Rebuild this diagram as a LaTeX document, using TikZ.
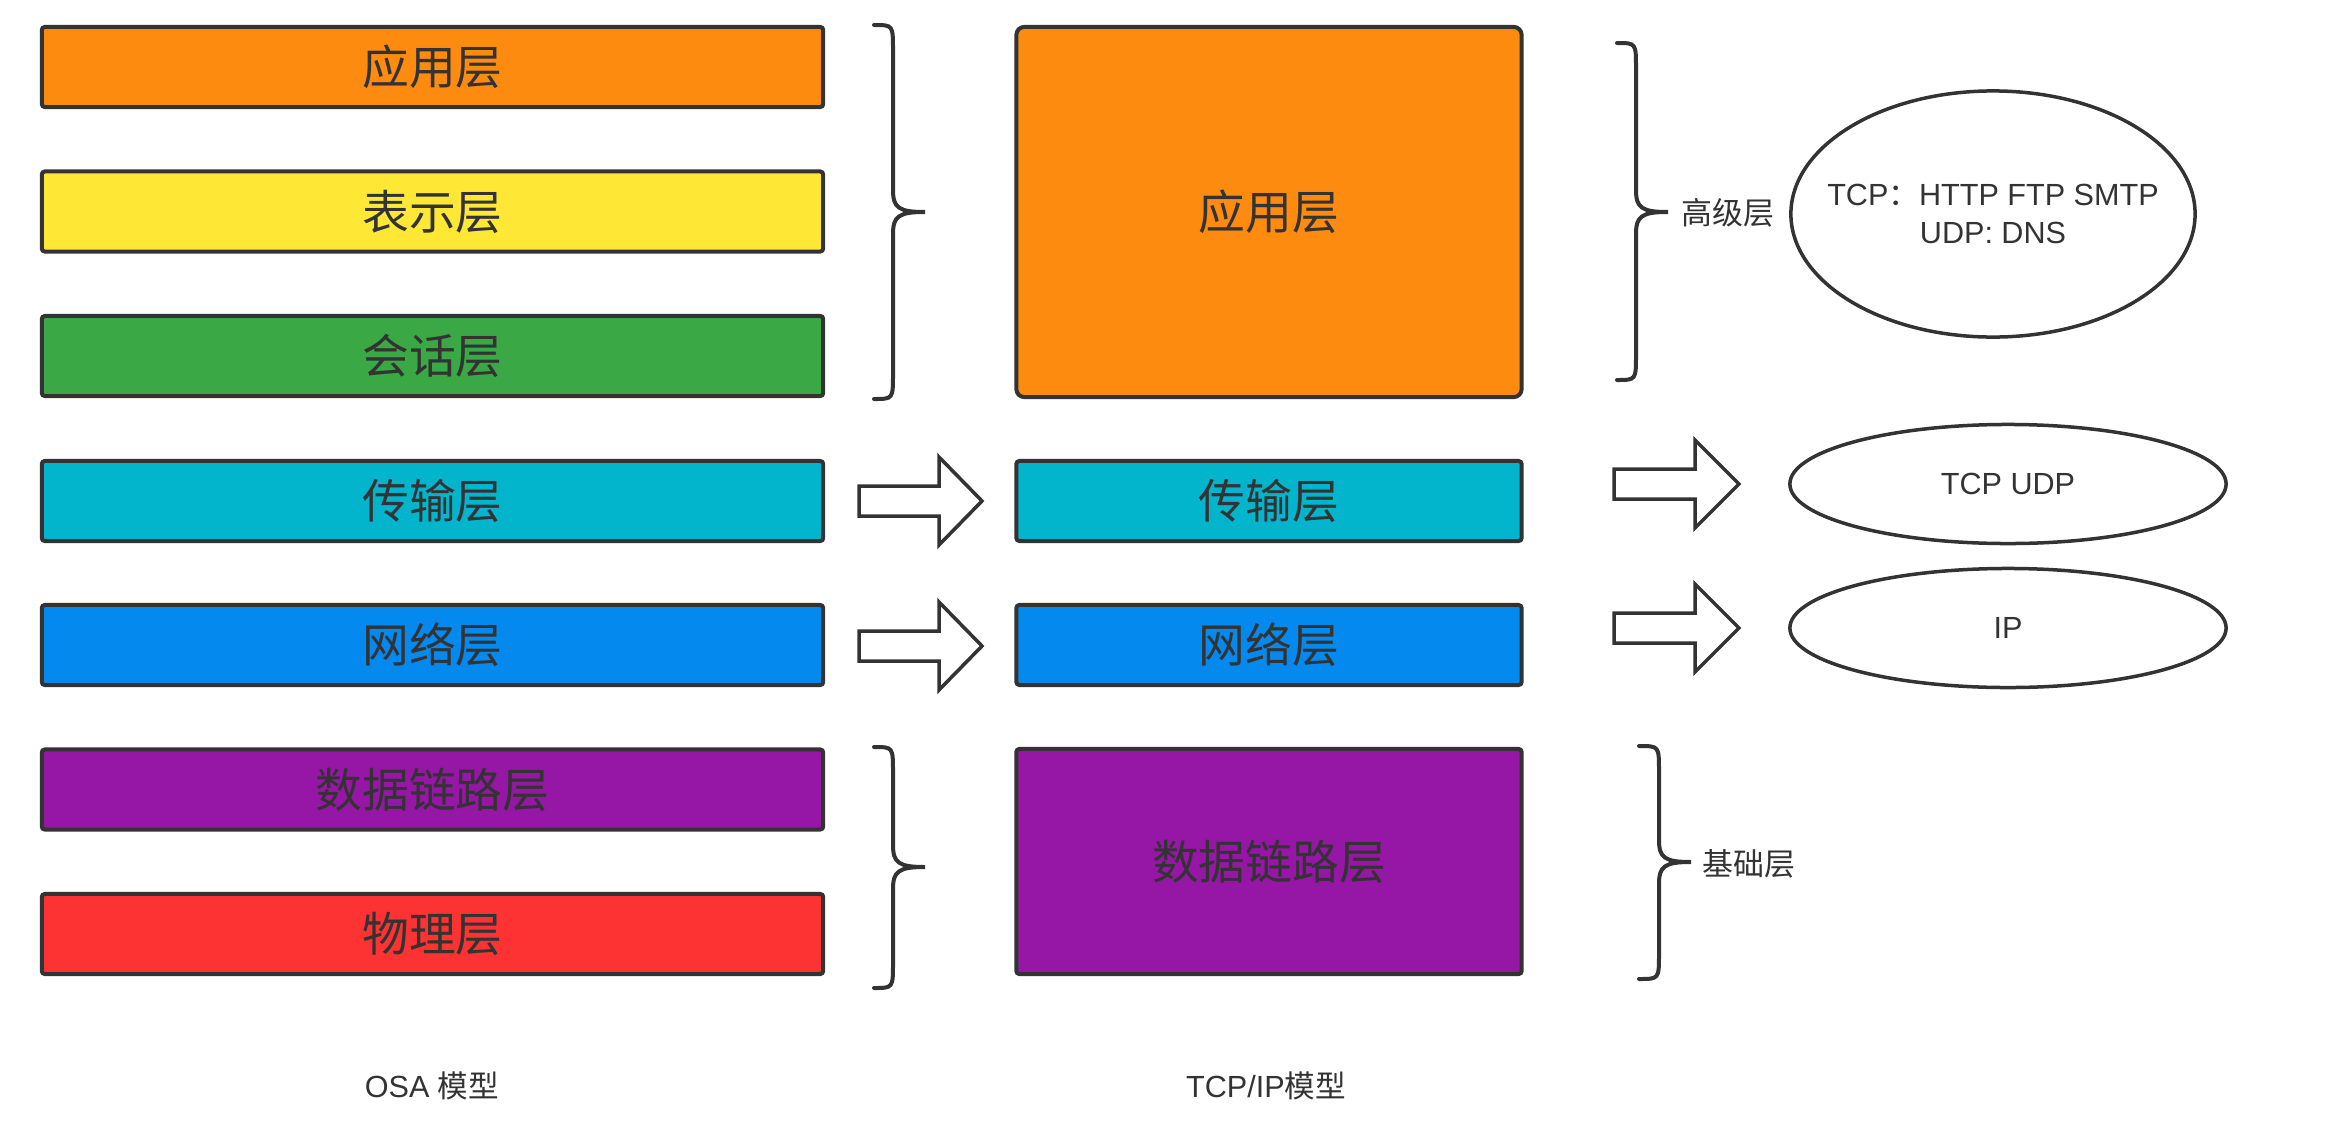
\documentclass[tikz,border=0pt]{standalone}
\usepackage{fontspec}
\setmainfont{Liberation Sans}
\newfontfamily\cjk{Noto Sans CJK SC}
\usetikzlibrary{shapes.geometric}

\definecolor{lc}{HTML}{333333}
\definecolor{cOrange}{HTML}{FD8B10}
\definecolor{cYellow}{HTML}{FEE835}
\definecolor{cGreen}{HTML}{39A845}
\definecolor{cCyan}{HTML}{02B5CD}
\definecolor{cBlue}{HTML}{0489EF}
\definecolor{cPurple}{HTML}{9616A5}
\definecolor{cRed}{HTML}{FD3232}

% block arrow: x start, x head start, x tip, y centre
\newcommand\blockarrow[4]{%
  \draw[barrow] ({#1},{#4-15}) -- ({#2},{#4-15}) -- ({#2},{#4-44}) -- ({#3},{#4})
    -- ({#2},{#4+44}) -- ({#2},{#4+15}) -- ({#1},{#4+15}) -- cycle;}
% curly brace: x end, x straight, x tip, y top, y mid, y bottom
\newcommand\curly[6]{%
  \draw[bracestyle] ({#1},{#4}) .. controls ({#2},{#4}) and ({#2},{#4}) .. ({#2},{#4+25})
    -- ({#2},{#5-22}) .. controls ({#2},{#5-4}) and ({#2+6},{#5}) .. ({#3},{#5})
    .. controls ({#2+6},{#5}) and ({#2},{#5+4}) .. ({#2},{#5+22})
    -- ({#2},{#6-25}) .. controls ({#2},{#6}) and ({#2},{#6}) .. ({#1},{#6});}

\begin{document}
\begin{tikzpicture}[x=0.01cm,y=-0.01cm,
  layer/.style={draw=lc, line width=0.04cm, rounded corners=0.03cm, inner sep=0pt,
    text=lc, font=\cjk\fontsize{13.3}{16}\selectfont},
  osi/.style={layer, minimum width=7.81cm, minimum height=0.80cm},
  tcp/.style={layer, minimum width=5.05cm, minimum height=0.80cm},
  oval/.style={ellipse, draw=lc, line width=0.035cm, inner sep=0pt},
  small/.style={text=lc, inner sep=0pt, font=\fontsize{8.7}{10.8}\selectfont, align=center},
  barrow/.style={draw=lc, line width=0.035cm, fill=white, line join=miter},
  bracestyle/.style={draw=lc, line width=0.04cm, line cap=round}
]
\useasboundingbox (0,0) rectangle (2344,1136);

% OSI column
\node[osi, fill=cOrange] (o7) at (432.5,67) {应用层};
\node[osi, fill=cYellow] (o6) at (432.5,211.5) {表示层};
\node[osi, fill=cGreen]  (o5) at (432.5,356) {会话层};
\node[osi, fill=cCyan]   (o4) at (432.5,501) {传输层};
\node[osi, fill=cBlue]   (o3) at (432.5,645) {网络层};
\node[osi, fill=cPurple] (o2) at (432.5,789.5) {数据链路层};
\node[osi, fill=cRed]    (o1) at (432.5,934) {物理层};

% TCP/IP column
\node[tcp, fill=cOrange, minimum height=3.70cm, rounded corners=0.08cm] (t4) at (1269,212) {应用层};
\node[tcp, fill=cCyan]   (t3) at (1269,501) {传输层};
\node[tcp, fill=cBlue]   (t2) at (1269,645) {网络层};
\node[tcp, fill=cPurple, minimum height=2.25cm] (t1) at (1269,861.5) {数据链路层};

% braces
\curly{874}{893}{925}{25}{212}{399}
\curly{874}{893}{925}{747}{867}{988}
\curly{1617}{1636}{1668}{43}{212}{380}
\curly{1639}{1659}{1691}{746}{862}{979}

% block arrows
\blockarrow{859}{939}{982}{501}
\blockarrow{859}{939}{982}{646}
\blockarrow{1614}{1695}{1739}{484}
\blockarrow{1614}{1695}{1739}{628}

% labels
\node[small, font=\cjk\fontsize{8.8}{10.8}\selectfont] (hi) at (1728,213) {高级层};
\node[small, font=\cjk\fontsize{8.8}{10.8}\selectfont] (lo) at (1749,864) {基础层};

% ellipses
\node[oval, minimum width=4.04cm, minimum height=2.46cm] (e1) at (1993,214) {};
\node[small] (e1t) at (e1.center) {TCP{\cjk ：}HTTP FTP SMTP\\UDP: DNS};
\node[oval, minimum width=4.36cm, minimum height=1.19cm] (e2) at (2008,484) {};
\node[small] (e2t) at (e2.center) {TCP UDP};
\node[oval, minimum width=4.36cm, minimum height=1.19cm] (e3) at (2008,628) {};
\node[small] (e3t) at (e3.center) {IP};

% captions
\node[small] (c1) at (432,1086) {OSA {\cjk 模型}};
\node[small] (c2) at (1266,1086) {TCP/IP{\cjk 模型}};
\end{tikzpicture}
\end{document}
